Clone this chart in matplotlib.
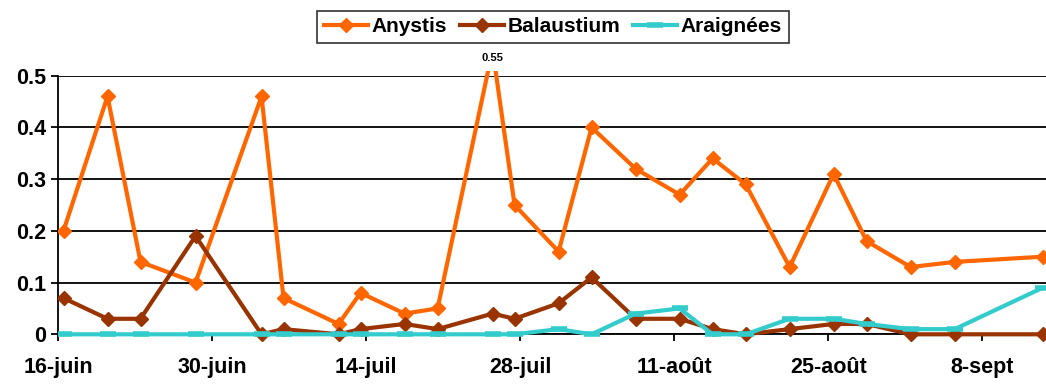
import pandas as pd
import matplotlib
matplotlib.use("Agg")
import matplotlib.pyplot as plt
import matplotlib.dates as mdates
from matplotlib.patches import Rectangle
from matplotlib.transforms import ScaledTranslation
from matplotlib.ticker import FuncFormatter

# sampling dates (year is arbitrary, only day/month are shown)
dates = ["2007-06-16", "2007-06-20", "2007-06-23", "2007-06-28", "2007-07-04",
         "2007-07-06", "2007-07-11", "2007-07-13", "2007-07-17", "2007-07-20",
         "2007-07-25", "2007-07-27", "2007-07-31", "2007-08-03", "2007-08-07",
         "2007-08-11", "2007-08-14", "2007-08-17", "2007-08-21", "2007-08-25",
         "2007-08-28", "2007-09-01", "2007-09-05", "2007-09-13"]

anystis = [0.20, 0.46, 0.14, 0.10, 0.46, 0.07, 0.02, 0.08, 0.04, 0.05, 0.55, 0.25,
           0.16, 0.40, 0.32, 0.27, 0.34, 0.29, 0.13, 0.31, 0.18, 0.13, 0.14, 0.15]
balaustium = [0.07, 0.03, 0.03, 0.19, 0.00, 0.01, 0.00, 0.01, 0.02, 0.01, 0.04, 0.03,
              0.06, 0.11, 0.03, 0.03, 0.01, 0.00, 0.01, 0.02, 0.02, 0.00, 0.00, 0.00]
araignees = [0.00, 0.00, 0.00, 0.00, 0.00, 0.00, 0.00, 0.00, 0.00, 0.00, 0.00, 0.00,
             0.01, 0.00, 0.04, 0.05, 0.00, 0.00, 0.03, 0.03, 0.02, 0.01, 0.01, 0.09]

tick_dates = ["2007-06-16", "2007-06-30", "2007-07-14", "2007-07-28",
              "2007-08-11", "2007-08-25", "2007-09-08"]
tick_labels = ["16-juin", "30-juin", "14-juil", "28-juil", "11-août", "25-août", "8-sept"]

plt.rcParams['font.family'] = ['Liberation Sans', 'DejaVu Sans']
plt.rcParams['font.weight'] = 'bold'

x = mdates.date2num(pd.to_datetime(dates))
ticks = mdates.date2num(pd.to_datetime(tick_dates)) - 0.5   # day boundaries

fig = plt.figure(figsize=(10.46, 3.88), dpi=100)
ax = fig.add_axes([58 / 1046, 0.1384, 988 / 1046, 0.6665])

# lines may spill a little past the plot frame (markers at 0, the clipped peak)
clip = Rectangle((0, -0.1), 1, 1.12, transform=ax.transAxes)

l1, = ax.plot(x, anystis, color='#FF6600', lw=3, marker='D', ms=7,
              mec='#FF6600', label='Anystis', zorder=3)
l2, = ax.plot(x, balaustium, color='#993300', lw=3, marker='D', ms=7,
              mec='#993300', label='Balaustium', zorder=4)
l3, = ax.plot(x, araignees, color='#33CCCC', lw=3, marker='_', ms=11, mew=4,
              label='Araignées', zorder=5)
for ln in (l1, l2, l3):
    ln.set_clip_path(clip)

# value label for the off-scale peak
i = anystis.index(max(anystis))
ax.annotate(f"{anystis[i]:.2f}", xy=(x[i], 0.5), xytext=(0, 13),
            textcoords='offset points', ha='center', va='center',
            fontsize=8, fontweight='bold', annotation_clip=False)

ax.set_ylim(0, 0.5)
ax.set_xlim(x[0] - 0.5, x[0] + 89.3)
ax.set_yticks([0, 0.1, 0.2, 0.3, 0.4, 0.5])
ax.yaxis.set_major_formatter(FuncFormatter(lambda v, p: f"{v:g}"))
ax.set_xticks(ticks)
ax.set_xticklabels(tick_labels)
for lab in ax.get_xticklabels():
    lab.set_transform(lab.get_transform() + ScaledTranslation(0.05, 0, fig.dpi_scale_trans))

ax.grid(axis='y', color='black', lw=1.3, zorder=1)
for s in ('top', 'right'):
    ax.spines[s].set_visible(False)
for s in ('left', 'bottom'):
    ax.spines[s].set_linewidth(1.3)
ax.tick_params(axis='both', direction='out', length=5, width=1.3, labelsize=15.5)
ax.tick_params(axis='x', pad=11.5)
ax.tick_params(axis='y', pad=3.5)

leg = ax.legend(loc='center', bbox_to_anchor=(553 / 1046, 1 - 27 / 388),
                bbox_transform=fig.transFigure, ncol=3, fontsize=15,
                frameon=True, fancybox=False, edgecolor='black',
                handlelength=2.1, handletextpad=0.2, columnspacing=0.6,
                borderpad=0.32, borderaxespad=0)
leg.get_frame().set_linewidth(1.2)

fig.savefig("out.png", dpi=100)
